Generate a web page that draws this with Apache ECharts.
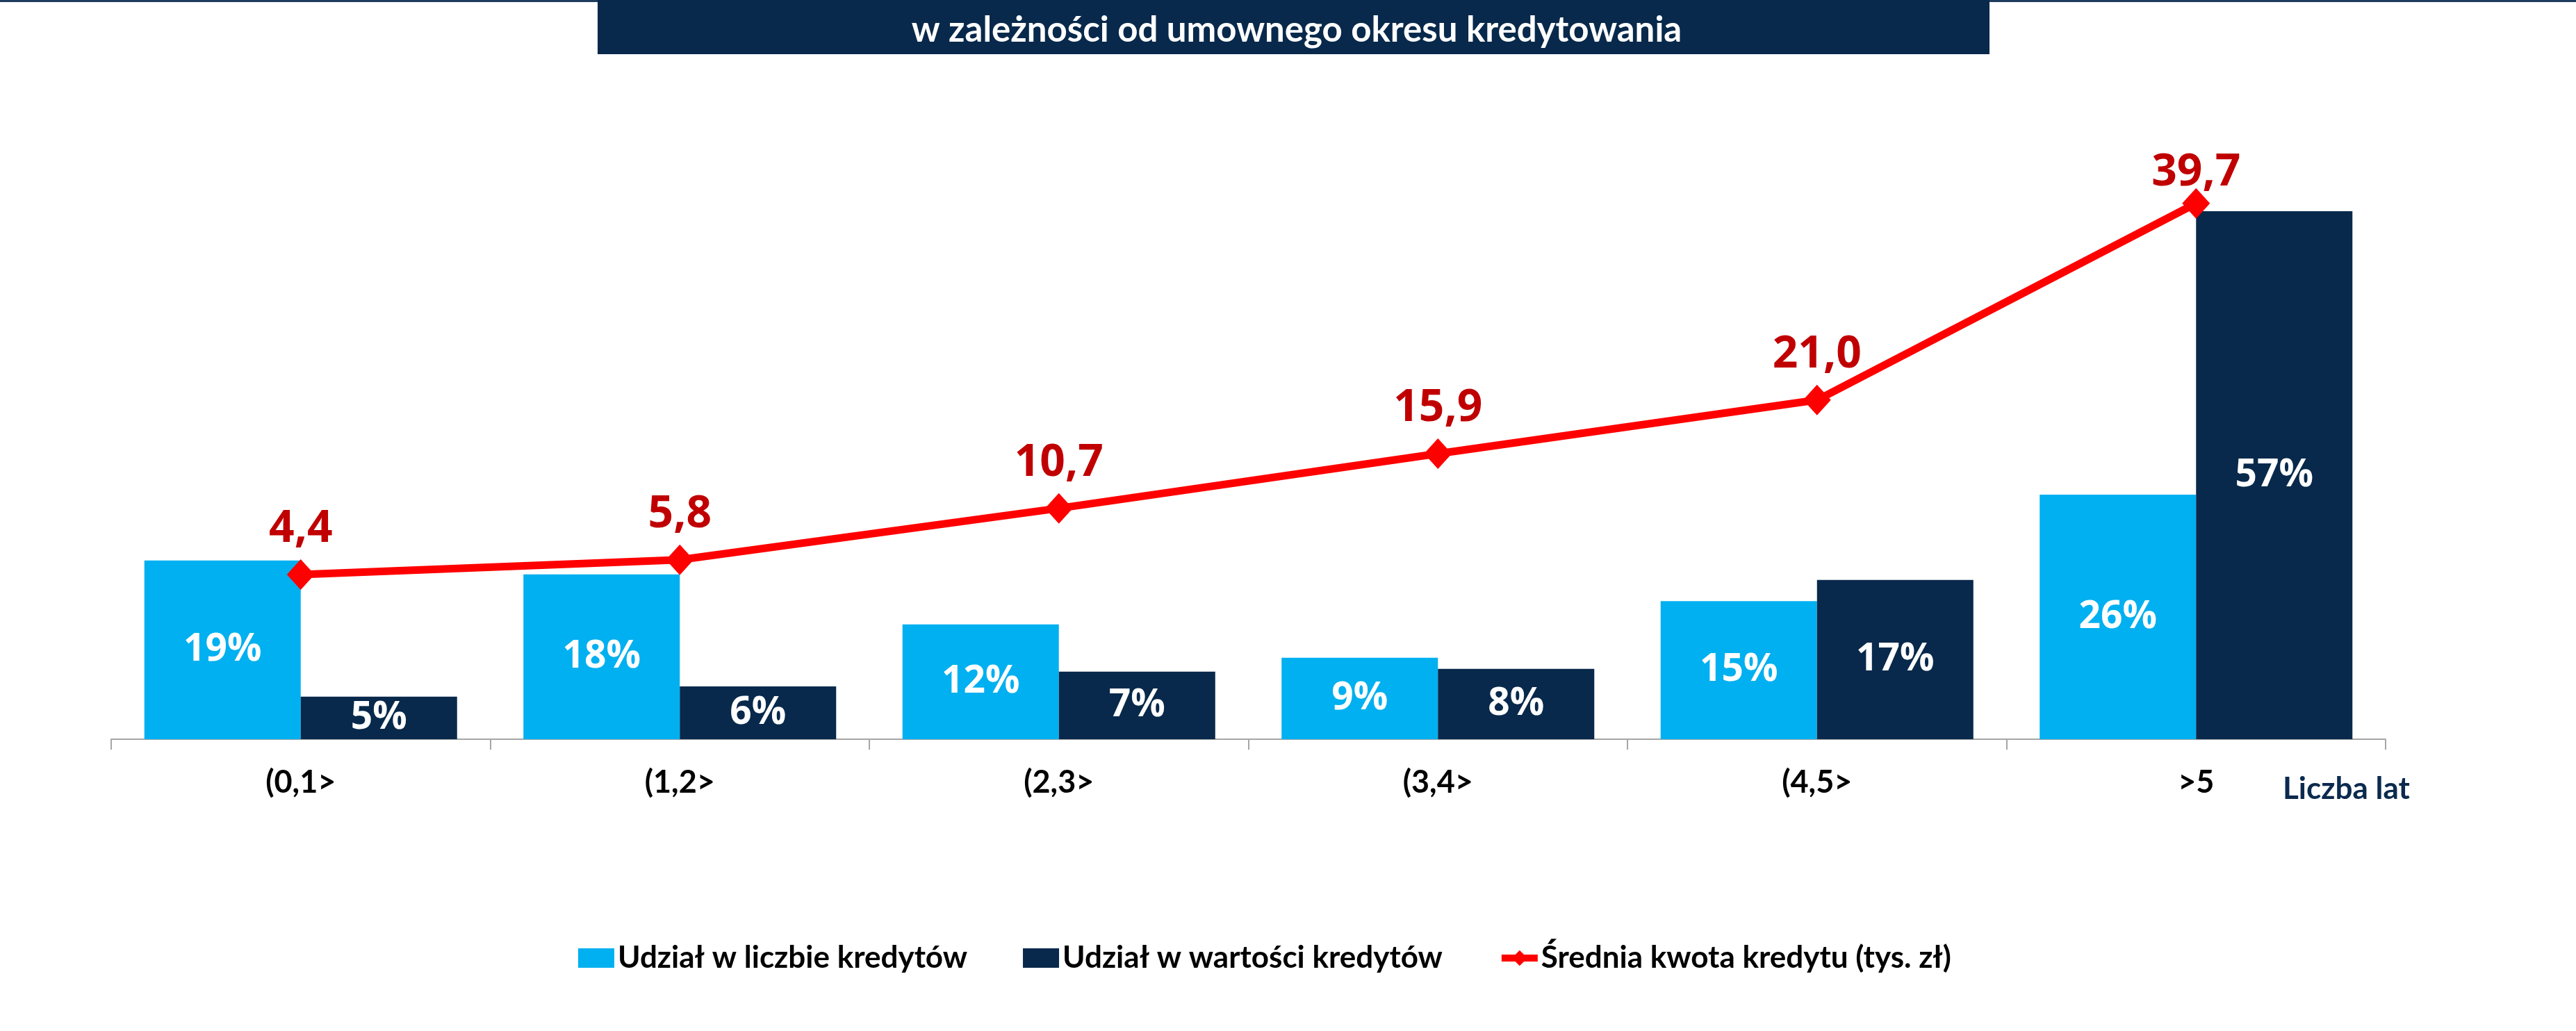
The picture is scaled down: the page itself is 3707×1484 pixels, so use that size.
<!DOCTYPE html>
<html>
<head>
<meta charset="utf-8">
<script src="https://cdn.jsdelivr.net/npm/echarts@6/dist/echarts.min.js"></script>
<style>
html,body{margin:0;padding:0;background:#fff;}
#c{width:3707px;height:1484px;}
</style>
</head>
<body>
<div id="c"></div>
<script>
var categories = ['(0,1>', '(1,2>', '(2,3>', '(3,4>', '(4,5>', '>5'];
var shareCount = [19.3, 17.8, 12.4, 8.8, 14.9, 26.4];
var shareValue = [4.6, 5.7, 7.3, 7.6, 17.2, 57.0];
var avgAmount = [4.4, 5.8, 10.7, 15.9, 21.0, 39.7];
var seriesNames = ['Udział w liczbie kredytów', 'Udział w wartości kredytów', 'Średnia kwota kredytu (tys. zł)'];
var titleText = 'w zależności od umownego okresu kredytowania';
var axisTitle = 'Liczba lat';

var NAVY = '#08294B';
var CYAN = '#00B0F0';
var RED = '#FF0000';
var DARKRED = '#C00000';
var CAL = 'Lato, "Open Sans", sans-serif';
var VER = '"Open Sans", "Noto Sans", sans-serif';

var chart = echarts.init(document.getElementById('c'), null, {renderer: 'canvas'});

var lineData = avgAmount.map(function (v, i) {
  if (i === avgAmount.length - 1) {
    return {value: v, label: {distance: -10}};
  }
  return v;
});

var barLabel = {
  show: true,
  position: 'inside',
  color: '#FFFFFF',
  fontFamily: VER,
  fontWeight: 'bold',
  fontSize: 55,
  formatter: function (p) { return Math.round(p.value) + '%'; }
};

chart.setOption({
  animation: false,
  backgroundColor: '#FFFFFF',
  title: {
    text: titleText,
    left: 1861,
    top: 11,
    textAlign: 'center',
    textStyle: {
      color: '#FFFFFF',
      fontFamily: CAL,
      fontWeight: 'bold',
      fontSize: 51,
      lineHeight: 56
    }
  },
  graphic: [
    {type: 'rect', z: -1, shape: {x: 0, y: 0, width: 3707, height: 3}, style: {fill: '#1F3B5E'}},
    {type: 'rect', z: -1, shape: {x: 860, y: 0, width: 2003, height: 78}, style: {fill: NAVY}},
    {type: 'text', left: 3285, top: 1114, style: {text: axisTitle, fill: '#0B2A4E', font: 'bold 44px Lato, sans-serif'}}
  ],
  legend: {
    left: 827,
    top: 1352,
    itemWidth: 52,
    itemHeight: 28,
    itemGap: 80,
    textStyle: {color: '#000000', fontFamily: CAL, fontWeight: 'bold', fontSize: 44},
    data: [
      {name: seriesNames[0], icon: 'rect'},
      {name: seriesNames[1], icon: 'rect'},
      {name: seriesNames[2], lineStyle: {width: 10, color: RED}}
    ]
  },
  grid: {left: 160, right: 274, top: 264, bottom: 420, containLabel: false},
  xAxis: {
    type: 'category',
    data: categories,
    axisLine: {show: true, lineStyle: {color: '#A6A6A6', width: 2}},
    axisTick: {show: true, length: 15, lineStyle: {color: '#A6A6A6', width: 2}},
    axisLabel: {color: '#000000', fontFamily: CAL, fontWeight: 'bold', fontSize: 45, margin: 40}
  },
  yAxis: [
    {type: 'value', min: 0, max: 60, show: false, splitLine: {show: false}},
    {type: 'value', min: -11.26, max: 41.6, show: false, splitLine: {show: false}}
  ],
  series: [
    {
      name: seriesNames[0], type: 'bar', data: shareCount, yAxisIndex: 0,
      barGap: '0%', barCategoryGap: '17.5%',
      itemStyle: {color: CYAN}, label: barLabel
    },
    {
      name: seriesNames[1], type: 'bar', data: shareValue, yAxisIndex: 0,
      barGap: '0%', barCategoryGap: '17.5%',
      itemStyle: {color: NAVY}, label: barLabel
    },
    {
      name: seriesNames[2], type: 'line', data: lineData, yAxisIndex: 1,
      symbol: 'diamond', symbolSize: [40, 44],
      lineStyle: {color: RED, width: 11},
      itemStyle: {color: RED},
      z: 5,
      label: {
        show: true, position: 'top', distance: 11,
        color: DARKRED, fontFamily: VER, fontWeight: 'bold', fontSize: 64, lineHeight: 64,
        formatter: function (p) { return p.value.toFixed(1).replace('.', ','); }
      }
    }
  ]
});
</script>
</body>
</html>
